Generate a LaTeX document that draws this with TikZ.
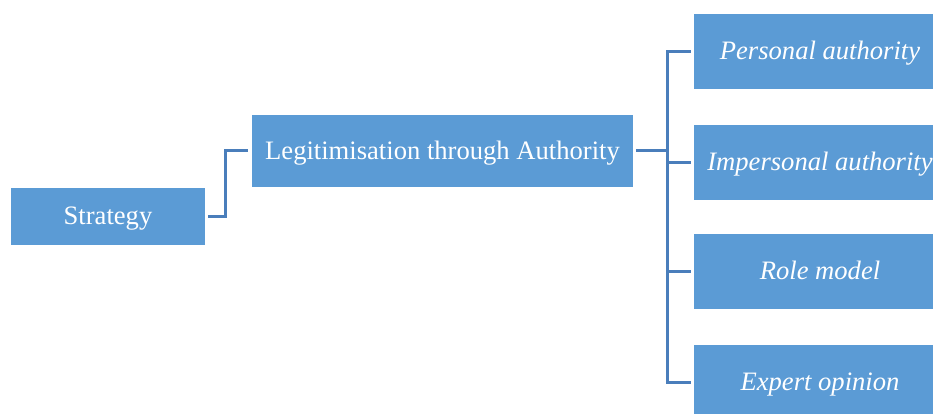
\documentclass[tikz,border=0pt]{standalone}
\usepackage{fontspec}
\setmainfont{Liberation Serif}
\definecolor{boxblue}{HTML}{5B9BD5}
\definecolor{lineblue}{HTML}{4A7EBB}
\tikzset{
  box/.style={fill=boxblue, draw=none, text=white, inner sep=0pt, text height=18.5pt, text depth=2pt, font=\fontsize{26.6}{30}\selectfont},
  ibox/.style={box, font=\fontsize{26.6}{30}\selectfont\itshape, minimum width=252pt, minimum height=75pt},
  conn/.style={draw=lineblue, line width=3pt}
}
\begin{document}
\begin{tikzpicture}[x=1pt, y=-1pt]
\useasboundingbox (0,0) rectangle (933,414);
\clip (0,0) rectangle (933,414);
\node[box, minimum width=194pt, minimum height=57pt] (strat) at (108,216.5) {Strategy};
\node[box, minimum width=381pt, minimum height=72pt] (leg) at (442.5,151) {Legitimisation through Authority};
\node[ibox] (p1) at (820,51.5) {Personal authority};
\node[ibox] (p2) at (820,162.5) {Impersonal authority};
\node[ibox] (p3) at (820,271.5) {Role model};
\node[ibox] (p4) at (820,382) {Expert opinion};
\coordinate (bus) at (667,151);
\draw[conn] ([xshift=3pt]strat.east) -- ++(17,0) |- ([xshift=-4pt]leg.west);
\draw[conn] ([xshift=3pt]leg.east) -- (bus);
\draw[conn] (bus) |- ([xshift=-3pt]p1.west);
\draw[conn] (bus) |- ([xshift=-3pt]p2.west);
\draw[conn] (bus) |- ([xshift=-3pt]p3.west);
\draw[conn] (bus) |- ([xshift=-3pt]p4.west);
\end{tikzpicture}
\end{document}
